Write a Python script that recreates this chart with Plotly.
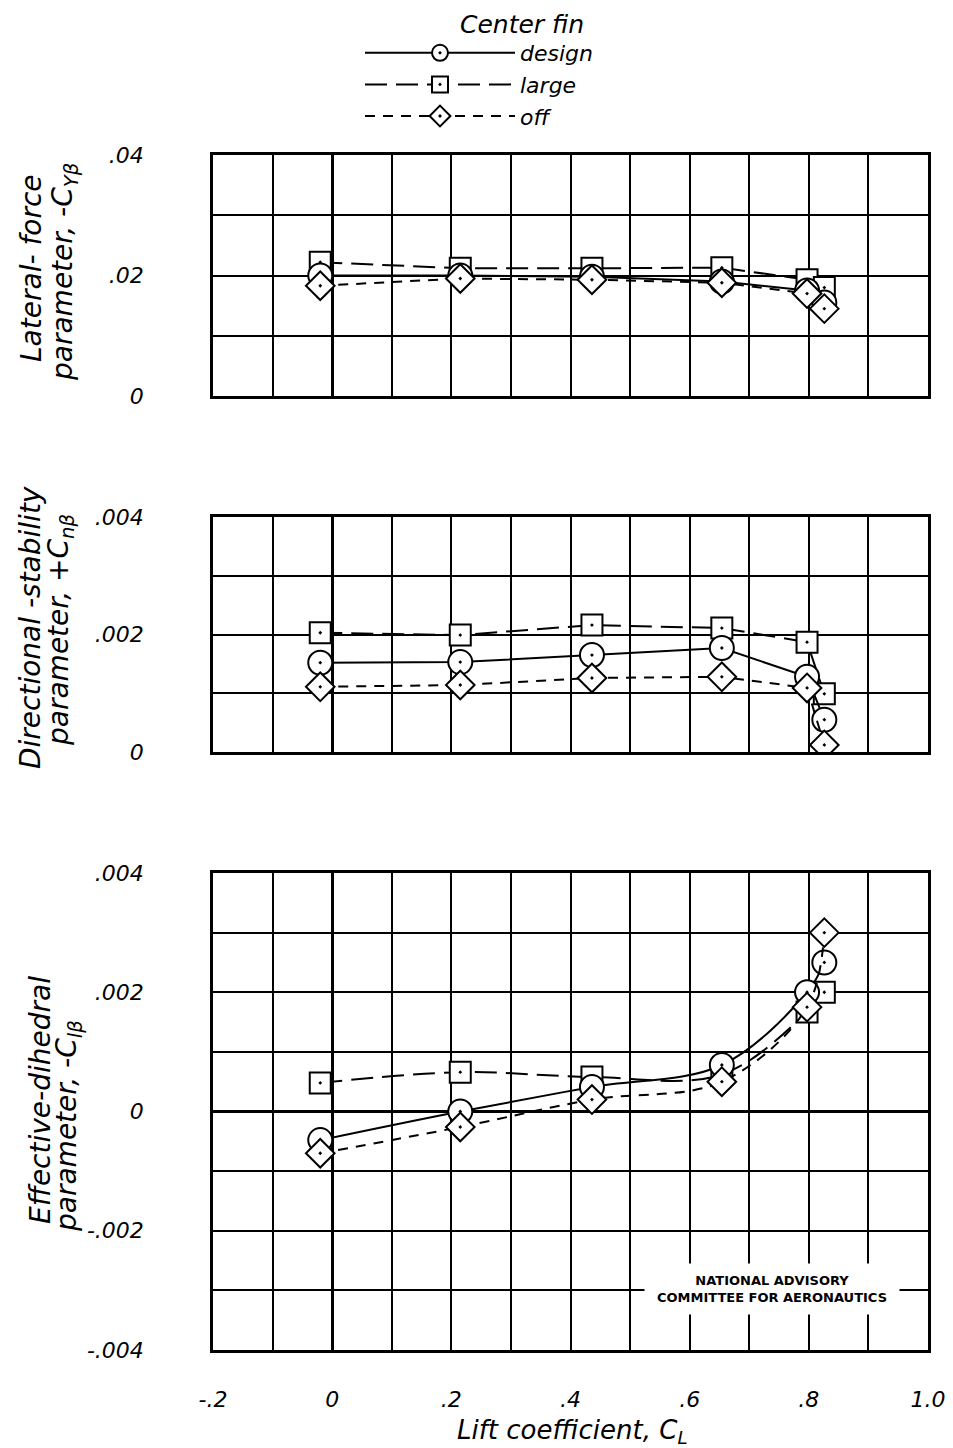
import plotly.graph_objects as go
from plotly.subplots import make_subplots

# The page body adds an ~8px margin, so the figure is drawn 8px smaller
# and all layout pixel positions are given in window pixels minus 8.
OFF = 8
W, H = 953 - OFF, 1448 - OFF


def px(x):
    return (x - OFF) / W


def py(y):
    return 1 - (y - OFF) / H


# ---- data ----
lift_coef = [-0.02, 0.215, 0.436, 0.654, 0.797, 0.826]

cy_design = [0.0200, 0.0200, 0.0198, 0.0190, 0.0175, 0.0155]
cy_large = [0.0222, 0.0212, 0.0212, 0.0213, 0.0193, 0.0180]
cy_off = [0.0183, 0.0195, 0.0193, 0.0188, 0.0170, 0.0145]

cn_design = [0.00152, 0.00153, 0.00165, 0.00177, 0.00128, 0.00055]
cn_large = [0.00203, 0.00199, 0.00216, 0.00211, 0.00187, 0.00099]
cn_off = [0.00111, 0.00114, 0.00126, 0.00128, 0.00109, 0.00012]

cl_design = [-0.00048, 0.0000, 0.00041, 0.00078, 0.00200, 0.00250]
cl_large = [0.00048, 0.00066, 0.00058, 0.00062, 0.00167, 0.00200]
cl_off = [-0.00070, -0.00026, 0.00020, 0.00050, 0.00175, 0.00300]

x_tickvals = [-0.2, -0.1, 0.0, 0.1, 0.2, 0.3, 0.4, 0.5, 0.6, 0.7, 0.8, 0.9, 1.0]
x_ticktext = ["-.2", "", "0", "", ".2", "", ".4", "", ".6", "", ".8", "", "1.0"]

cy_tickvals = [0, 0.01, 0.02, 0.03, 0.04]
cy_ticktext = ["0", "", ".02", "", ".04"]
cn_tickvals = [0, 0.001, 0.002, 0.003, 0.004]
cn_ticktext = ["0", "", ".002", "", ".004"]
cl_tickvals = [-0.004, -0.003, -0.002, -0.001, 0, 0.001, 0.002, 0.003, 0.004]
cl_ticktext = ["-.004", "", "-.002", "", "0", "", ".002", "", ".004"]

legend_title = "Center fin"
series_names = ["large", "design", "off"]
symbols = {"design": "circle-dot", "large": "square-dot", "off": "diamond-dot"}
sizes = {"design": 24, "large": 21, "off": 22}
dashes = {"design": "solid", "large": "22px,9px", "off": "10px,8px"}

FONT = "DejaVu Sans"

fig = make_subplots(rows=3, cols=1)

panels = [
    (1, {"design": cy_design, "large": cy_large, "off": cy_off}, "linear"),
    (2, {"design": cn_design, "large": cn_large, "off": cn_off}, "linear"),
    (3, {"design": cl_design, "large": cl_large, "off": cl_off}, "spline"),
]

for row, data, shape in panels:
    for name in series_names:
        fig.add_trace(
            go.Scatter(
                x=lift_coef,
                y=data[name],
                mode="lines+markers",
                name=name,
                legendrank={"design": 1, "large": 2, "off": 3}[name],
                showlegend=(row == 1),
                line=dict(color="black", width=2, dash=dashes[name], shape=shape),
                marker=dict(
                    symbol=symbols[name],
                    size=sizes[name],
                    color="white",
                    line=dict(color="black", width=2),
                ),
            ),
            row=row,
            col=1,
        )

# plot-area edges in window pixels
xdom = [px(213), px(928)]
ydoms = {1: (155, 396), 2: (517, 752), 3: (873, 1350)}

axis_common = dict(
    showgrid=True,
    gridcolor="black",
    gridwidth=1.6,
    showline=True,
    linecolor="black",
    linewidth=2.5,
    mirror=True,
    ticks="",
    automargin=False,
    tickfont=dict(family=FONT, size=22, color="black", style="italic"),
)

yinfo = {
    1: ([0, 0.04], cy_tickvals, cy_ticktext, False),
    2: ([0, 0.004], cn_tickvals, cn_ticktext, False),
    3: ([-0.004, 0.004], cl_tickvals, cl_ticktext, True),
}

for row in (1, 2, 3):
    top, bot = ydoms[row]
    fig.update_xaxes(
        row=row, col=1,
        domain=xdom,
        range=[-0.2, 1.0],
        tickvals=x_tickvals,
        ticktext=x_ticktext,
        showticklabels=(row == 3),
        ticklabelstandoff=28,
        zeroline=True,
        zerolinecolor="black",
        zerolinewidth=3,
        **axis_common,
    )
    rng, tv, tt, zl = yinfo[row]
    fig.update_yaxes(
        row=row, col=1,
        domain=[py(bot), py(top)],
        range=rng,
        tickvals=tv,
        ticktext=tt,
        ticklabelstandoff=62,
        zeroline=zl,
        zerolinecolor="black",
        zerolinewidth=3,
        **axis_common,
    )

ann_font = dict(family=FONT, size=28, color="black", style="italic")

title_lines = [
    ("Lateral- force", 31, 268),
    ("parameter, -C<sub>Yβ</sub>", 64, 272),
    ("Directional -stability", 30, 628),
    ("parameter, +C<sub>nβ</sub>", 60, 630),
    ("Effective-dihedral", 40, 1100),
    ("parameter, -C<sub>lβ</sub>", 68, 1126),
]
for text, x0, y0 in title_lines:
    fig.add_annotation(
        text=text, x=px(x0), y=py(y0), xref="paper", yref="paper",
        showarrow=False, textangle=-90, font=ann_font,
        xanchor="center", yanchor="middle",
    )

fig.add_annotation(
    text="Lift coefficient, C<sub>L</sub>", x=px(572), y=py(1431),
    xref="paper", yref="paper", showarrow=False,
    font=dict(family=FONT, size=26, color="black", style="italic"),
    xanchor="center", yanchor="middle",
)

# legend heading
fig.add_annotation(
    text=legend_title, x=px(522), y=py(25), xref="paper", yref="paper",
    showarrow=False, xanchor="center", yanchor="middle",
    font=dict(family=FONT, size=25, color="black", style="italic"),
)

fig.add_annotation(
    text="<b>NATIONAL ADVISORY<br>COMMITTEE FOR AERONAUTICS</b>",
    x=px(772), y=py(1289), xref="paper", yref="paper", showarrow=False,
    xanchor="center", yanchor="middle",
    font=dict(family="DejaVu Sans", size=13, color="black"),
    bgcolor="white", width=252, height=48, align="center",
)

fig.update_layout(
    width=W,
    height=H,
    margin=dict(l=0, r=0, t=0, b=0),
    paper_bgcolor="white",
    plot_bgcolor="white",
    showlegend=True,
    legend=dict(
        x=px(360), y=py(32), xanchor="left", yanchor="top",
        font=dict(family=FONT, size=22, color="black", style="italic"),
        itemwidth=150,
        tracegroupgap=0,
        bgcolor="rgba(0,0,0,0)",
    ),
)

fig.write_html("out.html")
